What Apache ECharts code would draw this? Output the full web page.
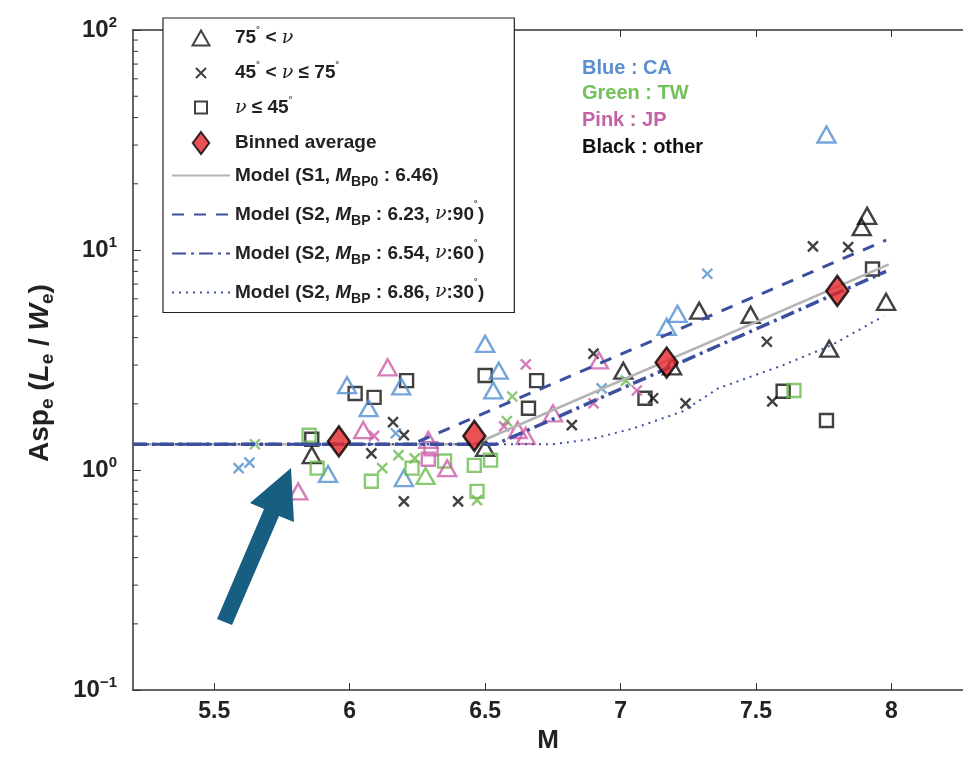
<!DOCTYPE html>
<html><head><meta charset="utf-8">
<script src="https://cdn.jsdelivr.net/npm/echarts@6/dist/echarts.min.js"></script>
<style>html,body{margin:0;padding:0;background:#fff}#c{width:963px;height:759px}</style>
</head><body><div id="c"></div>
<script>
// ---- data (M, Asp_e) ----
const xTickVals = [5.5, 6, 6.5, 7, 7.5, 8];
const yMinorTicks = [0.2,0.3,0.4,0.5,0.6,0.7,0.8,0.9,2,3,4,5,6,7,8,9,20,30,40,50,60,70,80,90];
const X_MIN = 5.2, X_MAX = 8.264;

const otherTri = [[5.86,1.17],[6.50,1.26],[7.01,2.83],[7.19,2.96],[7.29,5.30],[7.48,5.08],[7.77,3.56],[7.89,12.7],[7.91,14.3],[7.98,5.82]];
const otherCross = [[6.08,1.19],[6.16,1.65],[6.20,1.44],[6.20,0.72],[6.40,0.72],[6.82,1.60],[6.90,3.38],[7.12,2.12],[7.24,2.01],[7.54,3.83],[7.56,2.05],[7.71,10.4],[7.84,10.3]];
const otherSq = [[5.86,1.38],[6.02,2.23],[6.09,2.14],[6.21,2.55],[6.50,2.69],[6.66,1.91],[6.69,2.55],[7.09,2.12],[7.60,2.28],[7.76,1.68],[7.93,8.2]];
const caTri = [[5.92,0.96],[5.99,2.43],[6.07,1.91],[6.19,2.40],[6.20,0.92],[6.50,3.75],[6.53,2.30],[6.55,2.83],[7.17,4.48],[7.21,5.13],[7.76,33.5]];
const caCross = [[5.59,1.02],[5.63,1.08],[6.17,1.47],[6.93,2.35],[7.32,7.8]];
const twTri = [[6.28,0.94]];
const twCross = [[5.65,1.31],[6.12,1.02],[6.18,1.17],[6.24,1.13],[6.47,0.73],[6.58,1.67],[6.60,2.16],[7.02,2.55]];
const twSq = [[5.85,1.44],[5.88,1.02],[6.08,0.89],[6.23,1.02],[6.35,1.10],[6.46,1.05],[6.47,0.80],[6.52,1.11],[7.64,2.30]];
const jpTri = [[5.81,0.80],[6.05,1.52],[6.14,2.93],[6.29,1.37],[6.36,1.02],[6.62,1.52],[6.65,1.43],[6.75,1.81],[6.92,3.15]];
const jpCross = [[6.09,1.43],[6.57,1.58],[6.65,3.02],[6.90,2.01],[7.06,2.30]];
const jpSq = [[6.29,1.12],[6.30,1.25]];
const binned = [[5.96,1.35],[6.46,1.43],[7.17,3.08],[7.80,6.52]];

const modelS1 = [[5.2,1.31],[6.46,1.31],[7.99,8.6]];
const modelS2_90 = [[5.2,1.31],[6.23,1.31],[7.98,11.1]];
const modelS2_60 = [[5.2,1.31],[6.54,1.31],[7.98,8.0]];
const modelS2_30 = [[5.2,1.31],[6.75,1.31],[6.89,1.38],[7.05,1.55],[7.23,1.85],[7.36,2.35],[7.6,3.0],[7.78,3.7],[7.97,5.0]];

// ---- styles ----
const BLUE = '#5490d0', GREEN = '#6cbc4e', PINK = '#cc5ea9', BLACK = '#111';
const LINEBLUE = '#3d4f9f';
const FONT = '"Liberation Sans", Arial, sans-serif';
const CROSS = 'path://M0,0L10,10M10,0L0,10';
// legend icons padded to the 58x22 legend item box so they keep their shape
const ICON_TRI = 'path://M0,0M58,22M20.5,18.5L29,3.5L37.5,18.5Z';
const ICON_X = 'path://M0,0M58,22M24,6L34,16M34,6L24,16';
const ICON_SQ = 'path://M0,0M58,22M23,4.5L35,4.5L35,16.5L23,16.5Z';
const ICON_DIA = 'path://M0,0M58,22M29,-1L38,11L29,23L20,11Z';

function scat(name, data, symbol, color, size) {
  return {
    type: 'scatter', name, data, symbol, symbolSize: size, z: 3,
    itemStyle: { color: 'rgba(0,0,0,0)', borderColor: color, borderWidth: 2.4 }
  };
}
function line(name, data, color, width, dash) {
  return {
    type: 'line', name, data, symbol: 'none', showSymbol: false, z: 4, smooth: false,
    itemStyle: { color: color, opacity: 0 },
    lineStyle: { color, width, type: dash }
  };
}

const TRI = [18, 16], SQ = [13, 13], X = [10, 10];
const series = [
  scat('tri', otherTri, 'triangle', BLACK, TRI),
  scat('cross', otherCross, CROSS, BLACK, X),
  scat('sq', otherSq, 'rect', BLACK, SQ),
  scat('caTri', caTri, 'triangle', BLUE, TRI),
  scat('caCross', caCross, CROSS, BLUE, X),
  scat('twTri', twTri, 'triangle', GREEN, TRI),
  scat('twCross', twCross, CROSS, GREEN, X),
  scat('twSq', twSq, 'rect', GREEN, SQ),
  scat('jpTri', jpTri, 'triangle', PINK, TRI),
  scat('jpCross', jpCross, CROSS, PINK, X),
  scat('jpSq', jpSq, 'rect', PINK, SQ),
  line('s1', modelS1, '#b4b4b4', 2.5, 'solid'),
  line('s2a', modelS2_90, LINEBLUE, 3, [12, 10]),
  line('s2b', modelS2_60, LINEBLUE, 3.5, [14, 5, 3, 5]),
  line('s2c', modelS2_30, LINEBLUE, 2, [2, 5]),
  {
    type: 'scatter', name: 'avg', data: binned, symbol: 'diamond', symbolSize: [22, 30], z: 6,
    itemStyle: { color: '#e3262b', borderColor: '#000', borderWidth: 2.5 }
  },
  {
    type: 'custom', name: 'minorTicks', silent: true, z: 2,
    data: yMinorTicks.map(v => [X_MIN, v]),
    renderItem: function (params, api) {
      const p = api.coord([api.value(0), api.value(1)]);
      return { type: 'line', shape: { x1: p[0], y1: p[1], x2: p[0] + 5, y2: p[1] },
               style: { stroke: '#333', lineWidth: 1 } };
    }
  }
];

const legendText = {
  tri: '{t|75}{sup|˚}{t| < }{nu|ν}',
  cross: '{t|45}{sup|˚}{t| < }{nu|ν}{t| ≤ 75}{sup|˚}',
  sq: '{nu|ν}{t| ≤ 45}{sup|˚}',
  avg: '{t|Binned average}',
  s1: '{m|Model (S1, }{i|M}{sub|BP0}{m| : 6.46)}',
  s2a: '{m|Model (S2, }{i|M}{sub|BP}{m| : 6.23, }{nu|ν}{m|:90}{msup|˚}{m|)}',
  s2b: '{m|Model (S2, }{i|M}{sub|BP}{m| : 6.54, }{nu|ν}{m|:60}{msup|˚}{m|)}',
  s2c: '{m|Model (S2, }{i|M}{sub|BP}{m| : 6.86, }{nu|ν}{m|:30}{msup|˚}{m|)}'
};
const hideSym = { opacity: 0 };

const chart = echarts.init(document.getElementById('c'), null, { renderer: 'canvas' });
chart.setOption({
  animation: false,
  backgroundColor: '#fff',
  grid: { left: 133, right: 0, top: 30, bottom: 67 },
  xAxis: [{
    type: 'value', min: X_MIN, max: X_MAX, position: 'bottom',
    name: 'M', nameLocation: 'middle', nameGap: 36,
    nameTextStyle: { fontFamily: FONT, fontWeight: 'bold', fontSize: 26, color: '#222' },
    axisLine: { show: true, lineStyle: { color: '#333', width: 1.5 } },
    axisTick: { show: true, inside: true, length: 7, customValues: xTickVals, lineStyle: { color: '#333' } },
    axisLabel: { customValues: xTickVals, margin: 10, fontFamily: FONT, fontWeight: 'bold', fontSize: 23, color: '#222',
                 formatter: v => String(v) },
    splitLine: { show: false }
  }, {
    type: 'value', min: X_MIN, max: X_MAX, position: 'top',
    axisLine: { show: true, lineStyle: { color: '#333', width: 1.5 } },
    axisTick: { show: true, inside: true, length: 7, customValues: xTickVals, lineStyle: { color: '#333' } },
    axisLabel: { show: false }, splitLine: { show: false }
  }],
  yAxis: {
    type: 'log', logBase: 10, min: 0.1, max: 100,
    name: '{a|Asp}{s|e}{a| (}{ai|L}{s|e}{a| / }{ai|W}{s|e}{a|)}',
    nameLocation: 'middle', nameGap: 76, nameRotate: 90,
    nameTextStyle: {
      padding: [0, 26, 0, 0],
      rich: {
        a: { fontFamily: FONT, fontWeight: 'bold', fontSize: 28, color: '#222', lineHeight: 34 },
        ai: { fontFamily: FONT, fontWeight: 'bold', fontStyle: 'italic', fontSize: 28, color: '#222', lineHeight: 34 },
        s: { fontFamily: FONT, fontWeight: 'bold', fontSize: 19, color: '#222', lineHeight: 16, verticalAlign: 'bottom' }
      }
    },
    axisLine: { show: true, lineStyle: { color: '#333', width: 1.5 } },
    axisTick: { show: true, inside: true, length: 8, lineStyle: { color: '#333' } },
    minorTick: { show: false },
    splitLine: { show: false },
    axisLabel: {
      margin: 16,
      formatter: function (v) {
        const e = Math.round(Math.log10(v));
        return '{b|10}{sup|' + (e < 0 ? '−' : '') + Math.abs(e) + '}';
      },
      rich: {
        b: { fontFamily: FONT, fontWeight: 'bold', fontSize: 24, color: '#222', lineHeight: 30 },
        sup: { fontFamily: FONT, fontWeight: 'bold', fontSize: 15, color: '#222', lineHeight: 14, verticalAlign: 'top' }
      }
    }
  },
  legend: {
    left: 163, top: 18, orient: 'vertical',
    data: [
      { name: 'tri', icon: ICON_TRI }, { name: 'cross', icon: ICON_X },
      { name: 'sq', icon: ICON_SQ }, { name: 'avg', icon: ICON_DIA },
      { name: 's1', itemStyle: hideSym }, { name: 's2a', itemStyle: hideSym },
      { name: 's2b', itemStyle: hideSym }, { name: 's2c', itemStyle: hideSym }
    ],
    itemWidth: 58, itemHeight: 22, itemGap: 11,
    padding: [8, 30, 6, 8],
    backgroundColor: '#fff', borderColor: '#222', borderWidth: 1.2,
    selectedMode: false,
    formatter: n => legendText[n],
    textStyle: {
      rich: {
        t: { fontFamily: FONT, fontWeight: 'bold', fontSize: 19, color: '#222', lineHeight: 22 },
        m: { fontFamily: FONT, fontWeight: 'bold', fontSize: 19, color: '#222', lineHeight: 28 },
        i: { fontFamily: FONT, fontWeight: 'bold', fontStyle: 'italic', fontSize: 19, color: '#222', lineHeight: 22 },
        nu: { fontFamily: '"DejaVu Serif", serif', fontStyle: 'italic', fontSize: 19, color: '#222', lineHeight: 22 },
        sup: { fontFamily: FONT, fontSize: 12, color: '#222', lineHeight: 12, verticalAlign: 'top' },
        msup: { fontFamily: FONT, fontSize: 12, color: '#222', lineHeight: 20, verticalAlign: 'top' },
        sub: { fontFamily: FONT, fontWeight: 'bold', fontSize: 14, color: '#222', lineHeight: 12, verticalAlign: 'bottom' }
      }
    },
    z: 10
  },
  graphic: [
    { type: 'text', left: 582, top: 58, z: 10, style: { text: 'Blue : CA', fill: '#5b8fcf', font: 'bold 20px ' + FONT } },
    { type: 'text', left: 582, top: 83, z: 10, style: { text: 'Green : TW', fill: '#74c05a', font: 'bold 20px ' + FONT } },
    { type: 'text', left: 582, top: 110, z: 10, style: { text: 'Pink : JP', fill: '#c362a5', font: 'bold 20px ' + FONT } },
    { type: 'text', left: 582, top: 137, z: 10, style: { text: 'Black : other', fill: '#111', font: 'bold 20px ' + FONT } },
    { type: 'polygon', z: 20,
      shape: { points: [[291,468],[294,522],[279,516],[232,625],[217,619],[264,509],[250,503]] },
      style: { fill: '#175e80' } }
  ],
  series
});
</script>
</body></html>
